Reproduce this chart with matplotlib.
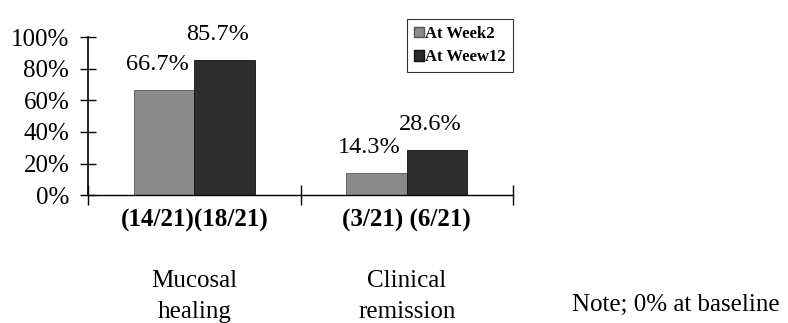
import matplotlib.pyplot as plt
import numpy as np
from matplotlib.patches import Patch

plt.rcParams['font.family'] = ['Liberation Serif', 'DejaVu Serif']

# Data
groups = ['Mucosal\nhealing', 'Clinical\nremission']
counts = ['(14/21)(18/21)', '(3/21) (6/21)']
week2 = [66.7, 14.3]
week12 = [85.7, 28.6]
series_names = ['At Week2', 'At Weew12']
note = 'Note; 0% at baseline'

LIGHT = '#8a8a8a'
DARK = '#2e2e2e'

fig = plt.figure(figsize=[7.88, 3.23], dpi=100)
ax = fig.add_axes([0.1117, 0.396, 0.651 - 0.1117, 0.885 - 0.396])

x = np.arange(len(groups))
w = 0.285
b1 = ax.bar(x - w / 2, week2, w, color=LIGHT, edgecolor='#555555', linewidth=0.6)
b2 = ax.bar(x + w / 2, week12, w, color=DARK, edgecolor='#111111', linewidth=0.6)

for bars, vals in [(b1, week2), (b2, week12)]:
    for r, v in zip(bars, vals):
        ax.annotate(f'{v:.1f}%', (r.get_x() + r.get_width() / 2, v),
                    xytext=(-5, 18), textcoords='offset points',
                    ha='center', va='center', fontsize=17.5)

ax.set_xlim(-0.5, 1.5)
ax.set_ylim(0, 100)
ax.set_yticks(np.arange(0, 101, 20))
ax.set_yticklabels([f'{t}%' for t in range(0, 101, 20)], fontsize=18)
ax.set_xticks([-0.5, 0.5, 1.5])
ax.set_xticklabels([])
ax.tick_params(axis='y', direction='inout', length=11, width=1, pad=8)
ax.tick_params(axis='x', direction='inout', length=14, width=1)
for s in ['top', 'right']:
    ax.spines[s].set_visible(False)
ax.spines['left'].set_linewidth(1.2)
ax.spines['bottom'].set_linewidth(1)

trans = ax.get_xaxis_transform()
for xi, c, g in zip(x, counts, groups):
    ax.text(xi, -0.16, c, transform=trans, ha='center', va='center',
            fontsize=18, fontweight='bold')
    ax.text(xi, -0.64, g, transform=trans, ha='center', va='center',
            fontsize=18, linespacing=1.55)

fig.text(0.857, 0.055, note, ha='center', va='center', fontsize=18)

handles = [Patch(facecolor=LIGHT, edgecolor='#555555'),
           Patch(facecolor=DARK, edgecolor='#111111')]
leg = fig.legend(handles, series_names, loc='upper left',
                 bbox_to_anchor=(0.506, 0.966), fancybox=False,
                 edgecolor='black', handlelength=0.6, handleheight=0.6,
                 handletextpad=0.1, borderpad=0.4, labelspacing=0.45,
                 prop={'weight': 'bold', 'size': 12})
leg.get_frame().set_linewidth(0.8)

plt.savefig('out.png', dpi=100)
plt.close(fig)
